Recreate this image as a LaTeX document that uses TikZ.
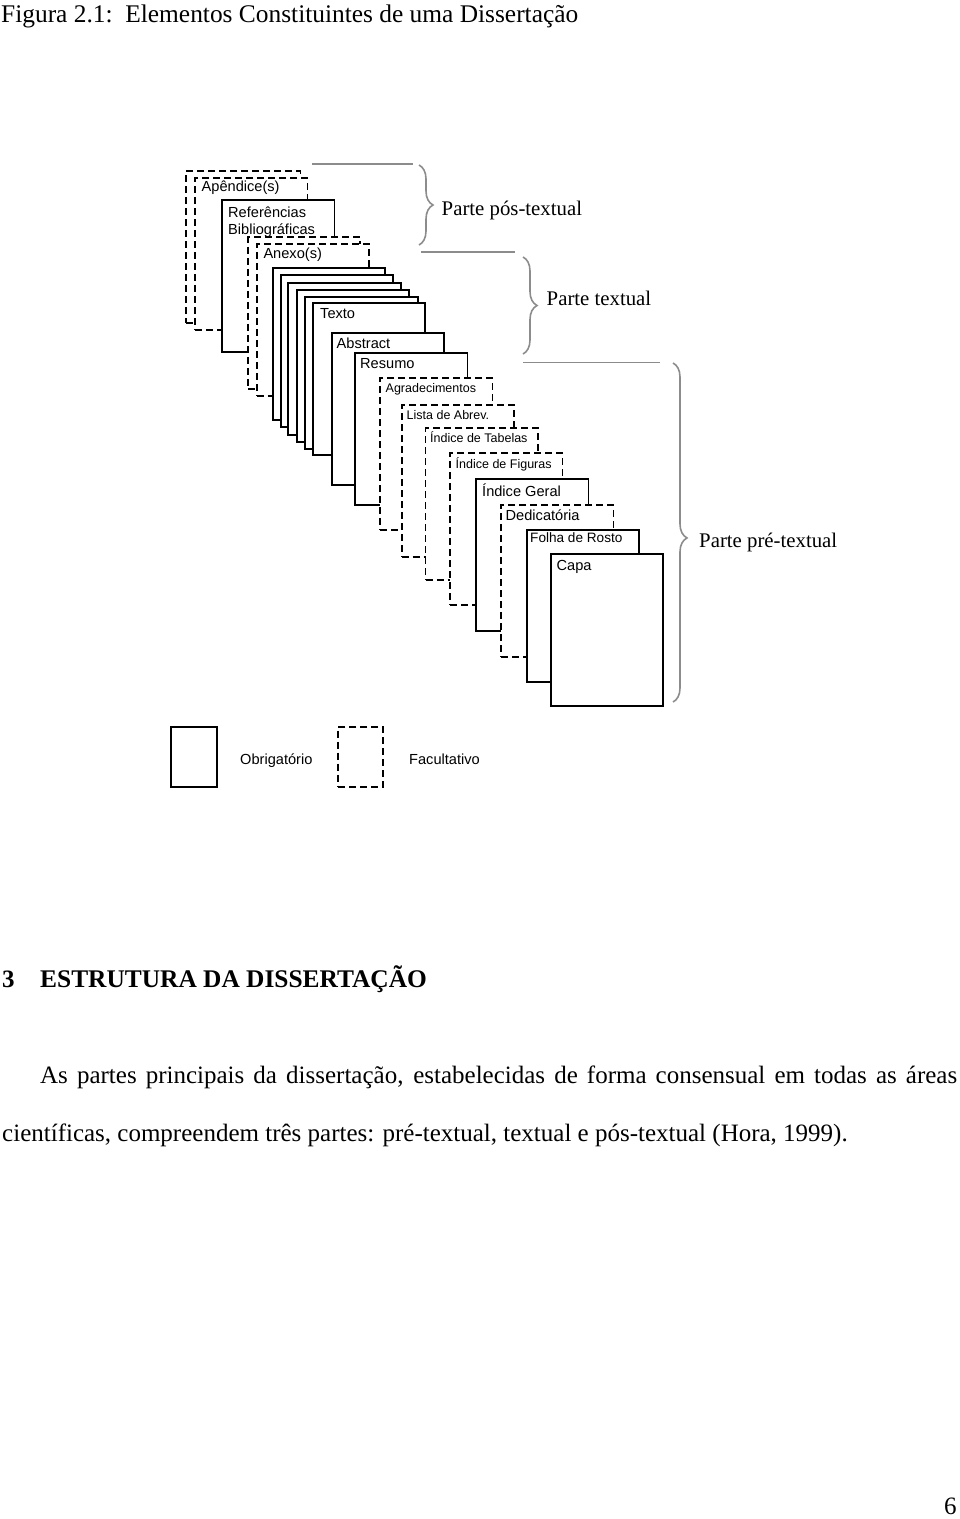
\documentclass[tikz,border=0pt]{standalone}
\usepackage{fontspec}
\setmainfont{Liberation Serif}
\newfontfamily\arialf{Liberation Sans}
\usetikzlibrary{decorations.pathreplacing}
\definecolor{brgray}{RGB}{140,140,140}
\begin{document}
\begin{tikzpicture}[x=1pt,y=-1pt,
  pg/.style={draw=black, line width=1.9pt, fill=white, minimum width=112.5pt, minimum height=152pt, inner sep=0pt, outer sep=0pt, anchor=north west},
  opt/.style={pg, dash pattern=on 7pt off 4pt},
  lbl/.style={anchor=base west, inner sep=0pt, font=\arialf\fontsize{14.6}{17}\selectfont},
  slbl/.style={lbl, font=\arialf\fontsize{12.5}{15}\selectfont},
  txt/.style={anchor=base west, inner sep=0pt, font=\fontsize{25}{30}\selectfont},
  part/.style={anchor=base west, inner sep=0pt, font=\fontsize{20.8}{24}\selectfont},
  brc/.style={draw=brgray, line width=1.6pt, decorate, decoration={brace, amplitude=14pt}},
  gline/.style={draw=brgray, line width=1.6pt}]
\useasboundingbox (0,0) rectangle (960,1519);

% title
\node[anchor=base west, inner sep=0pt, font=\fontsize{25.4}{30}\selectfont] (title) at (1,22) {Figura 2.1:\ \ Elementos Constituintes de uma Dissertação};

% post-textual pages
\node[opt, minimum width=114.5pt] (ap1) at (186,171) {};
\node[opt] (ap2) at (195,178) {};
\node[lbl] (ap2L) at (201.5,191.5) {Apêndice(s)};
\node[pg] (ref) at (222,200) {};
\node[lbl] (refL) at (228,217) {Referências};
\node[lbl] (refL2) at (228,234) {Bibliográficas};
\node[opt, minimum width=111.7pt] (an1) at (248.3,237.3) {};
\node[opt] (an2) at (256.7,244) {};
\node[lbl] (an2L) at (263.3,258.5) {Anexo(s)};

% textual pages
\node[pg] (t1) at (272.7,268.3) {};
\node[pg] (t2) at (280.7,275) {};
\node[pg] (t3) at (288.3,282.7) {};
\node[pg] (t4) at (296.7,290) {};
\node[pg] (t5) at (305.3,297.3) {};
\node[pg] (texto) at (312.7,303.3) {};
\node[lbl] (textoL) at (320,318.5) {Texto};

% pre-textual pages
\node[pg] (abs) at (331.7,332.7) {};
\node[lbl] (absL) at (336.5,348.3) {Abstract};
\node[pg] (res) at (355,353.3) {};
\node[lbl] (resL) at (360,368.5) {Resumo};
\node[opt] (agr) at (380,378.3) {};
\node[slbl] (agrL) at (385.5,392.7) {Agradecimentos};
\node[opt] (lis) at (401.7,405) {};
\node[slbl] (lisL) at (406.5,419) {Lista de Abrev.};
\node[opt] (tab) at (425.5,428.3) {};
\node[slbl] (tabL) at (430,442) {Índice de Tabelas};
\node[opt] (fig) at (450,453.3) {};
\node[slbl] (figL) at (455.5,468.3) {Índice de Figuras};
\node[pg] (ger) at (476,479) {};
\node[lbl] (gerL) at (482,496) {Índice Geral};
\node[opt] (ded) at (501,505) {};
\node[lbl] (dedL) at (505.5,520) {Dedicatória};
\node[pg] (fol) at (526.7,530) {};
\node[lbl, font=\arialf\fontsize{13.6}{16}\selectfont] (folL) at (530,542) {Folha de Rosto};
\node[pg] (capa) at (550.7,554) {};
\node[lbl] (capaL) at (556.5,570.5) {Capa};

% braces and separator lines
\coordinate (l1a) at (312,164); \coordinate (l1b) at (413,164);
\coordinate (l2a) at (421,251.7); \coordinate (l2b) at (515,251.7);
\coordinate (l3a) at (523,362.3); \coordinate (l3b) at (660,362.3);
\draw[gline] (l1a) -- (l1b);
\draw[gline] (l2a) -- (l2b);
\draw[gline] (l3a) -- (l3b);
\coordinate (b1a) at (419,165); \coordinate (b1b) at (419,245);
\coordinate (b2a) at (523,257); \coordinate (b2b) at (523,354);
\coordinate (b3a) at (673,363); \coordinate (b3b) at (673,702);
\draw[brc] (b1a) -- (b1b);
\draw[brc] (b2a) -- (b2b);
\draw[brc, decoration={brace, amplitude=14pt, aspect=0.516}] (b3a) -- (b3b);
\node[part] (posL) at (441.5,215) {Parte pós-textual};
\node[part] (txtL) at (546.5,305.5) {Parte textual};
\node[part] (preL) at (699,547) {Parte pré-textual};

% legend
\node[pg, minimum width=45.7pt, minimum height=60pt] (legS) at (171,726.7) {};
\node[lbl] (legSL) at (240,764) {Obrigatório};
\node[opt, minimum width=45pt, minimum height=60pt] (legD) at (338.3,726.7) {};
\node[lbl] (legDL) at (409,764) {Facultativo};

% body text
\node[txt, font=\fontsize{25}{30}\selectfont\bfseries] (h3) at (2,987) {3};
\node[txt, font=\fontsize{25.4}{30}\selectfont\bfseries] (hT) at (40,987) {ESTRUTURA DA DISSERTAÇÃO};
\node[txt] (p1) at (40,1083) {\makebox[917pt][s]{As partes principais da dissertação, estabelecidas de forma consensual em todas as áreas}};
\node[txt] (p2) at (2,1141) {científicas, compreendem três partes: pré-textual, textual e pós-textual (Hora, 1999).};
\node[anchor=base west, inner sep=0pt, font=\fontsize{25}{30}\selectfont] (pgno) at (944,1514.5) {6};
\end{tikzpicture}
\end{document}
